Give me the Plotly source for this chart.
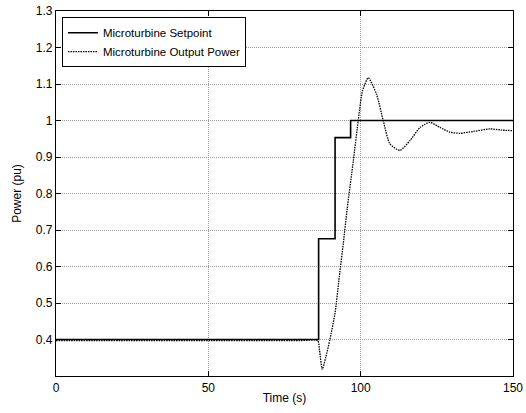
import plotly.graph_objects as go

# Setpoint (step signal)
sp_t = [0, 86.2, 86.2, 91.6, 91.6, 96.7, 96.7, 150]
sp_v = [0.400, 0.400, 0.676, 0.676, 0.953, 0.953, 1.000, 1.000]

# Output power
op_t = [0, 80, 85.9, 86.5, 87.4, 88.5, 89.9, 91.6, 93.0, 94.3, 95.6, 97.6, 99.2,
        100.6, 102.5, 105.2, 107.4, 109.6, 112.9, 116.2, 119.5, 122.7, 126.0,
        129.3, 132.6, 137.0, 142.4, 146.0, 150]
op_v = [0.397, 0.397, 0.397, 0.37, 0.318, 0.35, 0.400, 0.473, 0.573, 0.663, 0.760,
        0.890, 1.000, 1.081, 1.117, 1.072, 1.000, 0.936, 0.918, 0.945, 0.981, 0.995,
        0.981, 0.968, 0.965, 0.970, 0.977, 0.974, 0.972]

x_ticks = [0, 50, 100, 150]
y_ticks = [0.4, 0.5, 0.6, 0.7, 0.8, 0.9, 1.0, 1.1, 1.2, 1.3]
y_labels = ["0.4", "0.5", "0.6", "0.7", "0.8", "0.9", "1", "1.1", "1.2", "1.3"]

FONT = "Liberation Sans Narrow, Arial Narrow, Liberation Sans, Arial"

fig = go.Figure()
fig.add_trace(go.Scatter(x=sp_t, y=sp_v, mode="lines", name="Microturbine Setpoint",
                         line=dict(color="black", width=1.6)))
fig.add_trace(go.Scatter(x=op_t, y=op_v, mode="lines", name="Microturbine Output Power",
                         line=dict(color="black", width=1.3, dash="1.5px,1px",
                                   shape="spline", smoothing=0.6)))

axis_common = dict(showline=True, linecolor="black", linewidth=1.2, mirror="ticks",
                   ticks="inside", ticklen=5, tickcolor="black", showgrid=True,
                   gridcolor="#9a9a9a", griddash="1px,1px", gridwidth=1, zeroline=False,
                   automargin=False,
                   tickfont=dict(family=FONT, size=12, color="black"))

fig.update_xaxes(range=[0, 150], tickvals=x_ticks,
                 title=dict(text="Time (s)", font=dict(family=FONT, size=12, color="black"), standoff=0),
                 **axis_common)
fig.update_yaxes(range=[0.3, 1.3], tickvals=y_ticks, ticktext=y_labels,
                 title=dict(text="Power (pu)", font=dict(family=FONT, size=12, color="black"), standoff=11),
                 **axis_common)

fig.update_layout(
    width=526, height=413,
    margin=dict(l=56, r=13, t=11, b=37, autoexpand=False),
    paper_bgcolor="white", plot_bgcolor="white",
    font=dict(family=FONT, size=12, color="black"),
    legend=dict(x=0.013, y=0.983, xanchor="left", yanchor="top",
                bgcolor="white", bordercolor="black", borderwidth=1,
                font=dict(family=FONT, size=11.5, color="black"),
                tracegroupgap=0, itemwidth=30),
    showlegend=True,
)

fig.write_html("out.html")
